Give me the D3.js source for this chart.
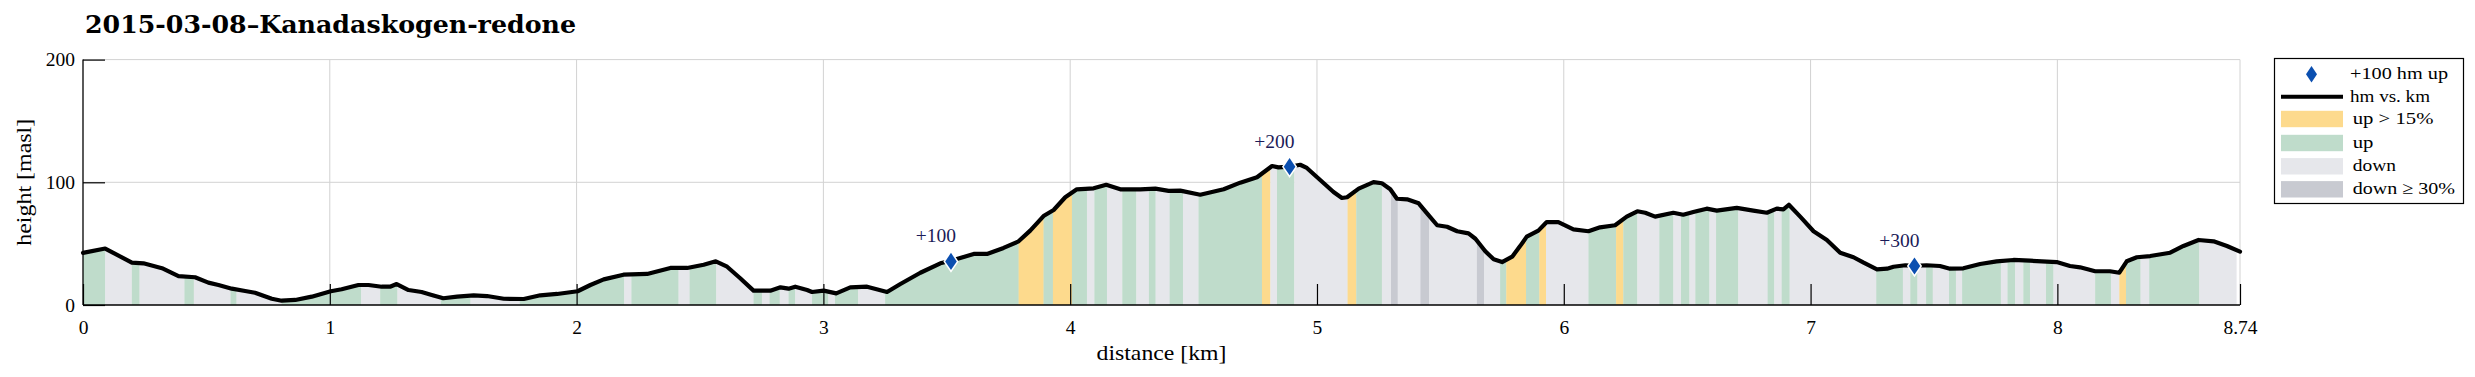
<!DOCTYPE html>
<html>
<head>
<meta charset="utf-8">
<script src="https://cdn.jsdelivr.net/npm/d3@7"></script>
<style>
  html, body { margin: 0; padding: 0; background: #fff; }
  svg { display: block; }
</style>
</head>
<body>
<svg id="chart" width="2475" height="377"></svg>
<script>
// ---------------- data ----------------
const titleText = "2015-03-08\u2013Kanadaskogen-redone";
const xLabelText = "distance [km]";
const yLabelText = "height [masl]";

const distKm = [0.0,0.09,0.198,0.245,0.32,0.387,0.454,0.508,0.549,0.603,0.657,0.697,0.765,0.805,0.86,0.927,1.004,1.048,1.116,1.157,1.21,1.244,1.271,1.319,1.372,1.413,1.46,1.516,1.583,1.637,1.705,1.786,1.853,1.921,2.004,2.056,2.11,2.19,2.286,2.38,2.448,2.515,2.564,2.61,2.663,2.717,2.785,2.826,2.859,2.886,2.934,2.954,3.001,3.052,3.109,3.177,3.258,3.312,3.393,3.474,3.517,3.609,3.663,3.73,3.791,3.838,3.892,3.933,3.98,4.027,4.095,4.146,4.203,4.284,4.345,4.399,4.446,4.527,4.622,4.689,4.757,4.818,4.844,4.889,4.932,4.959,5.013,5.067,5.101,5.122,5.169,5.229,5.263,5.297,5.324,5.365,5.412,5.446,5.487,5.527,5.568,5.614,5.642,5.682,5.716,5.75,5.791,5.823,5.85,5.897,5.931,5.978,6.039,6.1,6.147,6.208,6.255,6.298,6.33,6.37,6.444,6.484,6.525,6.579,6.62,6.701,6.768,6.823,6.863,6.89,6.912,6.958,7.012,7.066,7.12,7.174,7.215,7.269,7.31,7.336,7.384,7.421,7.47,7.524,7.565,7.619,7.687,7.754,7.822,7.889,7.997,8.051,8.092,8.153,8.213,8.251,8.281,8.322,8.376,8.457,8.511,8.572,8.633,8.687,8.74];
const heightM = [42.5,46,34.5,34,30,23.6,22.6,18.2,16.3,13.3,11.4,10.0,5.1,3.5,4.1,6.8,11.2,12.8,16.3,16.3,14.9,14.9,17.1,12.2,10.6,8.2,5.5,6.8,7.9,7.3,5.1,4.9,7.9,9.0,11.2,16.3,20.9,24.7,25.3,30.2,30.2,32.8,35.6,31.2,21.8,11.7,11.7,14.4,13.3,14.9,12.2,10.6,11.7,9.5,14.4,14.9,10.6,17.1,26.3,34,36,41.6,41.6,46.5,51.9,60.6,72.5,77.4,87.8,94.3,95.1,98.0,94.3,94.3,94.8,93,93.2,89.9,94.3,99.7,104.1,113.3,112.2,112.7,114.3,111.7,101.9,92.1,87.2,87.8,94.8,100.2,99.2,94.3,86.6,86.1,82.9,74.7,65.0,63.8,60.1,58.4,54.0,43.8,37.2,35.0,39.4,48,55.7,60.6,67.6,67.6,61.7,60.1,63.3,65.0,72.0,76.4,75.2,72.0,75.2,73.6,75.8,78.5,76.9,79.1,76.9,75.2,78.5,78.0,81.7,72.0,60.1,53.0,42.6,38.9,34.5,29.1,29.6,31.2,32.4,32,32.4,31.8,29.6,29.9,33.4,35.6,36.7,36.1,35.0,31.8,30.7,27.5,27.5,26.3,35.6,38.9,39.9,42.6,48.1,53.0,51.9,48.1,43.5];

// slope bands: start km, type (end = next start, last end = bandLastEnd)
const bandStart = [0,0.09,0.198,0.229,0.411,0.449,0.598,0.622,0.805,1.127,1.204,1.274,1.45,1.57,1.77,2.193,2.222,2.413,2.458,2.566,2.717,2.751,2.782,2.823,2.859,2.886,2.954,3.02,3.047,3.141,3.25,3.791,3.892,3.93,4.007,4.068,4.098,4.149,4.211,4.268,4.319,4.346,4.403,4.457,4.52,4.777,4.811,4.838,4.908,5.124,5.159,5.263,5.3,5.327,5.419,5.454,5.648,5.677,5.742,5.767,5.847,5.901,5.928,6.1,6.212,6.241,6.298,6.387,6.444,6.475,6.509,6.533,6.59,6.617,6.707,6.826,6.853,6.883,6.915,7.266,7.374,7.404,7.433,7.468,7.495,7.561,7.589,7.614,7.771,7.798,7.829,7.862,7.889,7.954,7.984,8.153,8.217,8.251,8.278,8.337,8.372,8.575];
const bandType = ["up","down","up","down","up","down","up","down","up","down","up","down","up","down","up","down","up","down","up","down","up","down","up","down","up","down","up","down","up","down","up","steep","up","steep","up","down","up","down","up","down","up","down","up","down","up","steep","down","up","down","steep","up","down","dsteep","down","dsteep","down","dsteep","down","up","steep","up","steep","down","up","steep","up","down","up","down","up","down","up","down","up","down","up","down","up","down","up","down","up","down","up","down","up","down","up","down","up","down","up","down","up","down","up","down","steep","up","down","up","down"];
const bandLastEnd = 8.725;

// +100 hm markers
const markerDist = [3.517, 4.889, 7.421];
const markerHeight = [35.5, 112.7, 31.8];
const markerLabel = ["+100", "+200", "+300"];

// axes ticks
const xTicks = [0,1,2,3,4,5,6,7,8,8.74];
const xTickLabels = ["0","1","2","3","4","5","6","7","8","8.74"];
const yTicks = [0,100,200];
const yTickLabels = ["0","100","200"];

// legend
const legendLabels = ["+100 hm up", "hm vs. km", "up > 15%", "up", "down", "down \u2265 30%"];
const legendKinds = ["marker", "line", "steep", "up", "down", "dsteep"];

// ---------------- styles ----------------
const colors = { up: "#bfdccb", steep: "#fdda8d", down: "#e6e7eb", dsteep: "#c8cad1" };
const markerColor = "#0b4fb0";
const labelColor = "#1b1b58";
const gridColor = "#d2d2d2";
const serif = "'Liberation Serif', 'Times New Roman', serif";

// ---------------- layout ----------------
const svg = d3.select("#chart");
const L = 83, R = 2240, T = 59.6, B = 305;
const x = d3.scaleLinear().domain([0, 8.74]).range([L, R]);
const y = d3.scaleLinear().domain([0, 200]).range([B, T]);

// title
svg.append("text").attr("x", 85).attr("y", 33)
  .attr("font-family", "'DejaVu Serif', serif").attr("font-weight", "bold")
  .attr("font-size", 24.5).attr("fill", "#000")
  .attr("textLength", 491).attr("lengthAdjust", "spacingAndGlyphs")
  .text(titleText);

// grid
const grid = svg.append("g");
xTicks.filter(d => d > 0).forEach(d => {
  grid.append("line").attr("x1", x(d)).attr("x2", x(d)).attr("y1", y(200)).attr("y2", y(0))
    .attr("stroke", gridColor).attr("stroke-width", 1);
});
yTicks.filter(d => d > 0).forEach(d => {
  grid.append("line").attr("x1", x(0)).attr("x2", x(8.74)).attr("y1", y(d)).attr("y2", y(d))
    .attr("stroke", gridColor).attr("stroke-width", 1);
});

// data points
const pts = distKm.map((d, i) => [d, heightM[i]]);

// area clip
const area = d3.area().x(d => x(d[0])).y0(y(0)).y1(d => y(d[1]));
svg.append("clipPath").attr("id", "under").append("path").attr("d", area(pts));

const bands = bandStart.map((s, i) => ({
  s, e: i < bandStart.length - 1 ? bandStart[i + 1] : bandLastEnd, t: bandType[i]
}));
svg.append("g").attr("clip-path", "url(#under)")
  .selectAll("rect").data(bands).join("rect")
  .attr("x", d => x(d.s)).attr("width", d => x(d.e) - x(d.s) + 0.3)
  .attr("y", y(200)).attr("height", y(0) - y(200))
  .attr("fill", d => colors[d.t]);

// axes
const xAxis = d3.axisBottom(x).tickValues(xTicks)
  .tickFormat((d, i) => xTickLabels[i]).tickSizeInner(-21).tickSizeOuter(0).tickPadding(15);
const gx = svg.append("g").attr("transform", `translate(0,${B})`).call(xAxis);
const yAxis = d3.axisLeft(y).tickValues(yTicks)
  .tickFormat((d, i) => yTickLabels[i]).tickSizeInner(-22).tickSizeOuter(0).tickPadding(8);
const gy = svg.append("g").attr("transform", `translate(${L},0)`).call(yAxis);
[gx, gy].forEach(g => {
  g.select(".domain").remove();
  g.selectAll(".tick line").attr("stroke", "#000").attr("stroke-width", 1.2);
  g.selectAll(".tick text").attr("font-family", serif).attr("font-size", 19.5).attr("fill", "#000");
});
// axis lines (left & bottom black)
svg.append("line").attr("x1", L).attr("x2", L).attr("y1", y(200)).attr("y2", y(0)).attr("stroke", "#000").attr("stroke-width", 1.3);
svg.append("line").attr("x1", L).attr("x2", x(8.74)).attr("y1", B).attr("y2", B).attr("stroke", "#000").attr("stroke-width", 1.3);

// profile line
const line = d3.line().x(d => x(d[0])).y(d => y(d[1])).curve(d3.curveLinear);
svg.append("path").attr("d", line(pts)).attr("fill", "none").attr("stroke", "#000")
  .attr("stroke-width", 4.2).attr("stroke-linejoin", "round").attr("stroke-linecap", "round");

// markers
function diamondPath(cx, cy, hw, hh) {
  return `M${cx},${cy - hh}L${cx + hw},${cy}L${cx},${cy + hh}L${cx - hw},${cy}Z`;
}
markerDist.forEach((d, i) => {
  const cx = x(d), cy = y(markerHeight[i]);
  svg.append("path").attr("d", diamondPath(cx, cy, 5.8, 8.6))
    .attr("fill", markerColor).attr("stroke", "#fff").attr("stroke-width", 3)
    .attr("stroke-linejoin", "miter").attr("paint-order", "stroke");
  svg.append("text").attr("x", cx + 5).attr("y", cy - 19)
    .attr("text-anchor", "end").attr("font-family", serif).attr("font-size", 19.5)
    .attr("fill", labelColor).text(markerLabel[i]);
});

// axis labels
svg.append("text").attr("x", (L + R) / 2).attr("y", 360).attr("text-anchor", "middle")
  .attr("font-family", serif).attr("font-size", 21).attr("fill", "#000")
  .attr("textLength", 130).attr("lengthAdjust", "spacingAndGlyphs").text(xLabelText);
svg.append("text").attr("transform", `translate(31,${(T + B) / 2}) rotate(-90)`)
  .attr("text-anchor", "middle").attr("font-family", serif).attr("font-size", 21).attr("fill", "#000")
  .attr("textLength", 127).attr("lengthAdjust", "spacingAndGlyphs").text(yLabelText);

// legend
const lg = svg.append("g");
lg.append("rect").attr("x", 2274.5).attr("y", 58.5).attr("width", 189).attr("height", 145)
  .attr("fill", "#fff").attr("stroke", "#000").attr("stroke-width", 1.2);
const rowY = [74.3, 96.7, 119, 143, 166.3, 189.3];
const legendTextW = [98, 80, 80.7, 20.7, 43.3, 102.3];
const legendTextX = [2350, 2350, 2352.7, 2352.7, 2352.7, 2352.7];
legendKinds.forEach((k, i) => {
  const cy = rowY[i];
  if (k === "marker") {
    lg.append("path").attr("d", diamondPath(2311.5, cy, 5.5, 8.2)).attr("fill", markerColor);
  } else if (k === "line") {
    lg.append("line").attr("x1", 2281).attr("x2", 2343).attr("y1", cy).attr("y2", cy)
      .attr("stroke", "#000").attr("stroke-width", 4);
  } else {
    lg.append("rect").attr("x", 2281).attr("y", cy - 8.2).attr("width", 62).attr("height", 16.4)
      .attr("fill", colors[k]);
  }
  lg.append("text").attr("x", legendTextX[i]).attr("y", cy + 5)
    .attr("font-family", serif).attr("font-size", 17.5).attr("fill", "#000")
    .attr("textLength", legendTextW[i]).attr("lengthAdjust", "spacingAndGlyphs")
    .text(legendLabels[i]);
});
</script>
</body>
</html>
